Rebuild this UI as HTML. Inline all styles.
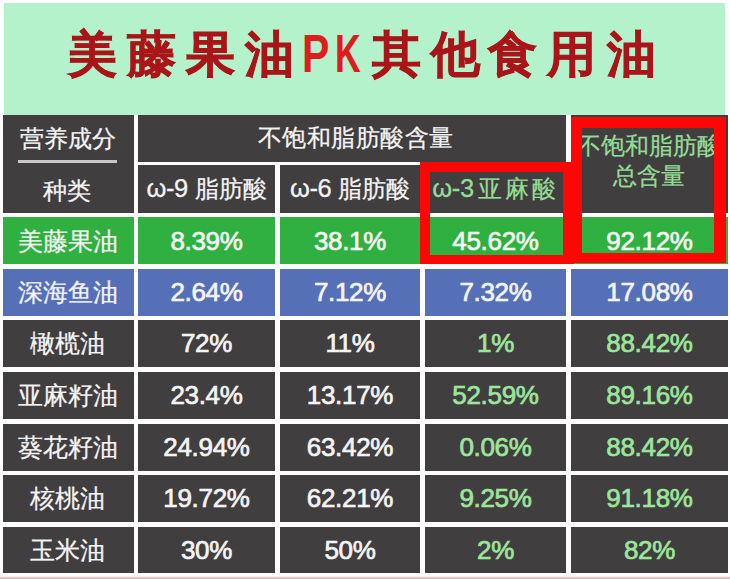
<!DOCTYPE html>
<html><head><meta charset="utf-8">
<style>
html,body{margin:0;padding:0;}
body{width:730px;height:579px;position:relative;overflow:hidden;background:#fff;font-family:"Liberation Sans",sans-serif;}
.a{position:absolute;}
.hdr{left:4px;top:3px;width:721px;height:112px;background:#b3f2cb;}
.t{position:absolute;width:60px;text-align:center;font-weight:bold;font-size:48.5px;line-height:1;color:#a91518;-webkit-text-stroke:0.8px #a91518;white-space:nowrap;}
.pk{position:absolute;font-weight:bold;font-size:54px;line-height:1;color:#dc1e1e;transform-origin:0 0;}
.tbl{left:3px;top:115px;width:725px;height:458px;background:#fcfdfc;}
.c{position:absolute;display:flex;align-items:center;justify-content:center;white-space:nowrap;}
.d{background:#413e40;}
.g{background:#30b040;}
.b{background:#5670b8;}
.lb{font-size:24.5px;color:#f4f4f4;-webkit-text-stroke:0.25px currentColor;}
.num{font-size:26px;font-weight:normal;color:#f4f4f4;-webkit-text-stroke:0.7px currentColor;letter-spacing:-0.3px;}
.om{font-size:25.5px;letter-spacing:-0.4px;}
.gn{color:#9ce69c;}
.lb.gn{color:#94dc94;}
.red{position:absolute;box-sizing:border-box;border:10px solid #fd0606;}
.bot{left:0;top:576px;width:730px;height:3px;background:linear-gradient(#fdf8f8 0%,#ead4d4 45%,#cfaaaa 100%);}
</style></head><body>
<div class="a hdr"></div>
<div class="t" style="left:62.25px;top:30px">美</div>
<div class="t" style="left:121.25px;top:30px">藤</div>
<div class="t" style="left:180.50px;top:30px">果</div>
<div class="t" style="left:239.00px;top:30px">油</div>
<div class="t" style="left:366.25px;top:30px">其</div>
<div class="t" style="left:425.50px;top:30px">他</div>
<div class="t" style="left:482.80px;top:30px">食</div>
<div class="t" style="left:541.00px;top:30px">用</div>
<div class="t" style="left:601.00px;top:30px">油</div>
<div class="pk" style="left:301.5px;top:25.5px;transform:scaleX(0.76)">P</div>
<div class="pk" style="left:334.5px;top:25.5px;transform:scaleX(0.66)">K</div>

<div class="a tbl"></div>
<!-- header -->
<div class="c d" style="left:3px;top:115px;width:131px;height:98px"></div>
<div class="a lb" style="left:19.5px;top:126.5px;line-height:1;font-size:24px">营养成分</div>
<div class="a" style="left:18px;top:160px;width:99px;height:3px;background:#c9c7c8"></div>
<div class="a lb" style="left:43px;top:178.5px;line-height:1;font-size:24px">种类</div>

<div class="a d" style="left:138px;top:115px;width:428px;height:47px"></div><div class="c lb" style="left:138px;top:115px;width:435px;height:46px;padding-bottom:1px;font-size:24px;letter-spacing:0.45px;text-indent:0.45px">不饱和脂肪酸含量</div>
<div class="c d lb" style="left:138px;top:165px;width:137px;height:47px;padding-bottom:1px;font-size:24px"><span class="om">ω-9</span>&nbsp;脂肪酸</div>
<div class="c d lb" style="left:280px;top:165px;width:140px;height:47px;padding-bottom:1px;font-size:24px"><span class="om">ω-6</span>&nbsp;脂肪酸</div>
<div class="c d lb gn" style="left:425px;top:165px;width:141px;height:47px;padding-bottom:1px;font-size:24px"><span class="om">ω-3</span><span style="letter-spacing:3px;margin-left:4px">亚麻酸</span></div>
<div class="a d" style="left:571px;top:115px;width:157px;height:98px"></div><div class="a lb gn" style="left:570px;top:130.5px;width:157px;text-align:center;line-height:30.5px;font-size:24px">不饱和脂肪酸<br>总含量</div>

<!-- rows -->
<div class="c g lb" style="left:3px;top:217px;width:129px;padding-right:2px;height:45px;padding-top:2px">美藤果油</div>
<div class="c g num" style="left:138px;top:217px;width:137px;height:45px;padding-top:2px">8.39%</div>
<div class="c g num" style="left:280px;top:217px;width:140px;height:45px;padding-top:2px">38.1%</div>
<div class="c g num" style="left:425px;top:217px;width:141px;height:45px;padding-top:2px">45.62%</div>
<div class="c g num" style="left:571px;top:217px;width:157px;height:45px;padding-top:2px">92.12%</div>

<div class="c b lb" style="left:3px;top:268.67px;width:129px;padding-right:2px;height:47px">深海鱼油</div>
<div class="c b num" style="left:138px;top:268.67px;width:137px;height:47px">2.64%</div>
<div class="c b num" style="left:280px;top:268.67px;width:140px;height:47px">7.12%</div>
<div class="c b num" style="left:425px;top:268.67px;width:141px;height:47px">7.32%</div>
<div class="c b num" style="left:571px;top:268.67px;width:157px;height:47px">17.08%</div>

<div class="c d lb" style="left:3px;top:320.33px;width:129px;padding-right:2px;height:47px">橄榄油</div>
<div class="c d num" style="left:138px;top:320.33px;width:137px;height:47px">72%</div>
<div class="c d num" style="left:280px;top:320.33px;width:140px;height:47px">11%</div>
<div class="c d num gn" style="left:425px;top:320.33px;width:141px;height:47px">1%</div>
<div class="c d num gn" style="left:571px;top:320.33px;width:157px;height:47px">88.42%</div>

<div class="c d lb" style="left:3px;top:372px;width:129px;padding-right:2px;height:47px">亚麻籽油</div>
<div class="c d num" style="left:138px;top:372px;width:137px;height:47px">23.4%</div>
<div class="c d num" style="left:280px;top:372px;width:140px;height:47px">13.17%</div>
<div class="c d num gn" style="left:425px;top:372px;width:141px;height:47px">52.59%</div>
<div class="c d num gn" style="left:571px;top:372px;width:157px;height:47px">89.16%</div>

<div class="c d lb" style="left:3px;top:423.67px;width:129px;padding-right:2px;height:47px">葵花籽油</div>
<div class="c d num" style="left:138px;top:423.67px;width:137px;height:47px">24.94%</div>
<div class="c d num" style="left:280px;top:423.67px;width:140px;height:47px">63.42%</div>
<div class="c d num gn" style="left:425px;top:423.67px;width:141px;height:47px">0.06%</div>
<div class="c d num gn" style="left:571px;top:423.67px;width:157px;height:47px">88.42%</div>

<div class="c d lb" style="left:3px;top:475.33px;width:129px;padding-right:2px;height:47px">核桃油</div>
<div class="c d num" style="left:138px;top:475.33px;width:137px;height:47px">19.72%</div>
<div class="c d num" style="left:280px;top:475.33px;width:140px;height:47px">62.21%</div>
<div class="c d num gn" style="left:425px;top:475.33px;width:141px;height:47px">9.25%</div>
<div class="c d num gn" style="left:571px;top:475.33px;width:157px;height:47px">91.18%</div>

<div class="c d lb" style="left:3px;top:527px;width:129px;padding-right:2px;height:46px">玉米油</div>
<div class="c d num" style="left:138px;top:527px;width:137px;height:46px">30%</div>
<div class="c d num" style="left:280px;top:527px;width:140px;height:46px">50%</div>
<div class="c d num gn" style="left:425px;top:527px;width:141px;height:46px">2%</div>
<div class="c d num gn" style="left:571px;top:527px;width:157px;height:46px">82%</div>

<!-- red boxes -->
<div class="red" style="left:420px;top:161.5px;width:153.5px;height:102px;border-width:10.5px 11px 9px 10px"></div>
<div class="red" style="left:571px;top:116.5px;width:155px;height:146px;border-width:11px 12px 10px 11px"></div>

<div class="a bot"></div>
</body></html>
